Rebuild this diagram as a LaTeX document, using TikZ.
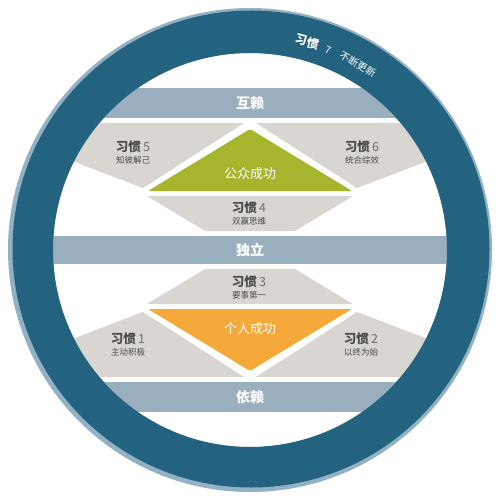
\documentclass[tikz,border=0pt]{standalone}
\usepackage{fontspec}
\newfontfamily\cjk{Noto Sans CJK SC}
\definecolor{ringblue}{HTML}{23637F}
\definecolor{ringedge}{HTML}{93B1C4}
\definecolor{bandblue}{HTML}{9AAFBE}
\definecolor{habitgrey}{HTML}{D9D5D1}
\definecolor{publicgreen}{HTML}{A7B52C}
\definecolor{privateorange}{HTML}{F5A93B}
\definecolor{habitdark}{HTML}{4B4B4B}
\definecolor{numgrey}{HTML}{6E6E6E}
\begin{document}
\begin{tikzpicture}[x=1pt,y=-1pt,
      band/.style={fill=bandblue},
      habit/.style={fill=habitgrey},
      bandtext/.style={text=white,font=\cjk\bfseries\fontsize{14}{14}\selectfont},
      wintext/.style={text=white,font=\cjk\fontsize{13}{13}\selectfont},
      title/.style={text=habitdark,inner sep=0pt,font=\cjk\bfseries\fontsize{12.5}{12.5}\selectfont},
      sub/.style={text=habitdark,inner sep=0pt,font=\cjk\fontsize{8.5}{8.5}\selectfont},
      arcbold/.style={text=white,inner sep=0pt,font=\cjk\bfseries\fontsize{12}{12}\selectfont},
      arcthin/.style={text=white,inner sep=0pt,font=\cjk\fontsize{10}{10}\selectfont},
    ]
    \useasboundingbox (0,0) rectangle (500,500);
    \begin{scope}
      \clip (250,250) circle (200);
      % bands
      \fill[band] (0,88) rectangle (500,118);
      \fill[band] (0,236) rectangle (500,264);
      \fill[band] (0,382) rectangle (500,412);
      % upper half
      \fill[habit] (244,123) -- (30,123) -- (30,145) -- (143,188) -- cycle;
      \fill[habit] (256,123) -- (470,123) -- (470,145) -- (357,188) -- cycle;
      \fill[habit] (147,196) -- (353,196) -- (295,231) -- (205,231) -- cycle;
      \fill[publicgreen,rounded corners=1.5pt] (250,129) -- (352,191) -- (148,191) -- cycle;
      % lower half
      \fill[habit] (244,377) -- (30,377) -- (30,355) -- (143,312) -- cycle;
      \fill[habit] (256,377) -- (470,377) -- (470,355) -- (357,312) -- cycle;
      \fill[habit] (147,304) -- (353,304) -- (295,269) -- (205,269) -- cycle;
      \fill[privateorange,rounded corners=1.5pt] (250,371) -- (352,309) -- (148,309) -- cycle;
    \end{scope}
    % ring
    \fill[ringedge,even odd rule] (250,250) circle (242) (250,250) circle (197);
    \fill[ringblue,even odd rule] (251,249) circle (238.5) (250,250) circle (197);
    \node[bandtext] (inter) at (250,103) {互赖};
    \node[bandtext] (indep) at (250,250) {独立};
    \node[bandtext] (dep) at (250,397) {依赖};
    \node[wintext] (public) at (250,174) {公众成功};
    \node[wintext] (private) at (250,329) {个人成功};
    \foreach \n/\x/\y/\txt in {1/128/339/主动积极,2/361/339/以终为始,3/249/282/要事第一,
        4/249/208/双赢思维,5/133/147/知彼解己,6/362/147/统合综效}{
      \node[title] (h\n) at (\x,\y) {习惯\,{\mdseries\color{numgrey}\n}};
      \node[sub] (h\n s) at (\x,\y+13) {\txt};
    }
    % habit 7 along the ring
    \node[arcbold,rotate=-15.3] (r1) at ({250+216*sin(15.3)},{250-216*cos(15.3)}) {习惯};
    \node[arcthin,rotate=-21.3] (r2) at ({250+215*sin(21.3)},{250-215*cos(21.3)}) {7};
    \node[arcthin,rotate=-30.1] (r3) at ({250+215*sin(30.1)},{250-215*cos(30.1)}) {不断更新};
  \end{tikzpicture}
\end{document}
